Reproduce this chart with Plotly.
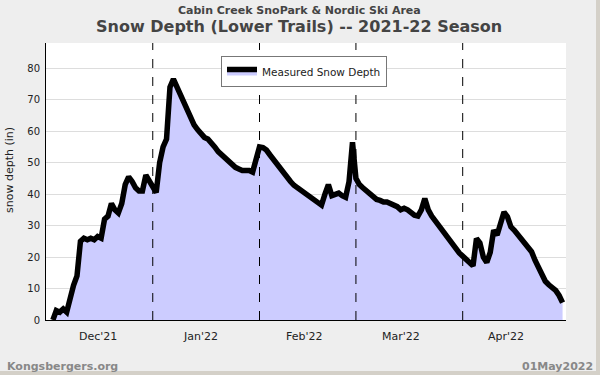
import pandas as pd
import plotly.graph_objects as go

# ---- data (daily readings) ----
start_date = "2021-12-03"
snow_depth = [
    0, 3, 2.5, 3.5, 2.5, 7, 11, 14, 25, 26, 25.5, 26, 25.5, 26.5, 26,          # Dec 3-17
    32, 33, 37, 35, 34, 37, 43, 45.5, 44, 42, 41, 41, 46, 44,                   # Dec 18-31
    42, 40.5, 50, 55, 57.5, 74, 76.5, 74, 71.5, 69.5, 67.5, 64.5, 62, 60.5,     # Jan 1-14
    59, 58, 57.5, 56.5, 55, 53.5, 52.5, 51, 50, 49, 48.5, 48, 47.5, 47.5,       # Jan 15-28
    47.5, 47, 52,                                                               # Jan 29-31
    55, 54.8, 54, 52.5, 51, 49.5, 48, 46.5, 45, 44, 42.8, 42, 41.2, 40.5,       # Feb 1-14
    40, 39, 38.3, 37.5, 36.5, 40, 43, 39.5, 40, 40.3, 39.5, 39, 44, 56.5,       # Feb 15-28
    45, 43, 42, 41, 40, 39, 38.3, 38, 37.5, 37.5, 37, 36.5, 36, 35, 35.5,       # Mar 1-15
    35, 34, 33.3, 33, 35, 38.6, 35, 33, 31.5, 30.3, 29, 27.5, 25.8, 24,         # Mar 16-29
    22.5, 21.3,                                                                 # Mar 30-31
    20.3, 19.3, 18.3, 17.2, 25.9, 24.5, 20, 18.3, 21.5, 28.5, 27, 31, 34.3,     # Apr 1-13
    32.8, 29.6, 28.5, 27, 25.5, 24.3, 23.2, 21.7, 19, 16.5, 14, 12.3, 11.2,     # Apr 14-26
    10.2, 9.4, 7.8, 5.5,                                                        # Apr 27-30
]
dates = pd.date_range(start_date, periods=len(snow_depth), freq="D")

month_starts = ["2022-01-01", "2022-02-01", "2022-03-01", "2022-04-01"]
tick_dates = ["2021-12-16", "2022-01-15", "2022-02-14", "2022-03-14", "2022-04-13 12:00"]
tick_labels = ["Dec'21", "Jan'22", "Feb'22", "Mar'22", "Apr'22"]
x_range = ["2021-12-01", "2022-05-01"]
y_range = [0, 88]

FONT = "DejaVu Sans"
L, R, T, B = 46, 34, 43, 55
PW, PH = 600 - L - R, 375 - T - B
Y_PER_PX = (y_range[1] - y_range[0]) / PH


def px(x):
    return (x - L) / PW


def py(y):
    return (375 - B - y) / PH


fig = go.Figure()
fig.add_trace(go.Scatter(
    x=dates, y=snow_depth, mode="lines", name="Measured Snow Depth",
    line=dict(color="black", width=5.5), fill="tozeroy", fillcolor="#ccccff",
))

# daily tick marks below the x axis (drawn as unclipped vertical-line markers)
day_ticks = pd.date_range(x_range[0], x_range[1], freq="D")
fig.add_trace(go.Scatter(
    x=day_ticks, y=[-2.5 * Y_PER_PX] * len(day_ticks), mode="markers",
    marker=dict(symbol="line-ns", size=4, color="black", line=dict(color="black", width=1)),
    cliponaxis=False, showlegend=False, hoverinfo="skip",
))

shapes = []
for d in month_starts:
    shapes.append(dict(type="line", xref="x", yref="paper", x0=d, x1=d, y0=0, y1=1,
                       line=dict(color="black", width=1, dash="dash"), layer="above"))
# window border (right and bottom)
shapes.append(dict(type="rect", xref="paper", yref="paper",
                   x0=px(596), x1=px(602), y0=py(380), y1=py(-5),
                   line=dict(width=0), fillcolor="#d4d0c8", layer="below"))
shapes.append(dict(type="rect", xref="paper", yref="paper",
                   x0=px(-5), x1=px(605), y0=py(380), y1=py(371),
                   line=dict(width=0), fillcolor="#d4d0c8", layer="below"))

annotations = [
    dict(text=lab, xref="x", yref="paper", x=d, y=py(336), showarrow=False,
         xanchor="center", yanchor="middle", font=dict(family=FONT, size=11, color="#222222"))
    for d, lab in zip(tick_dates, tick_labels)
]
annotations += [
    dict(text="<b>Cabin Creek SnoPark &amp; Nordic Ski Area</b>", xref="paper", yref="paper",
         x=px(299), y=py(10), showarrow=False,
         font=dict(family=FONT, size=11, color="#444444"), xanchor="center", yanchor="middle"),
    dict(text="<b>Snow Depth (Lower Trails) -- 2021-22 Season</b>", xref="paper", yref="paper",
         x=px(299), y=py(26), showarrow=False,
         font=dict(family=FONT, size=16, color="#444444"), xanchor="center", yanchor="middle"),
    dict(text="snow depth (in)", xref="paper", yref="paper", x=px(9), y=py(170),
         textangle=-90, showarrow=False, font=dict(family=FONT, size=11, color="#222222"),
         xanchor="center", yanchor="middle"),
    dict(text="<b>Kongsbergers.org</b>", xref="paper", yref="paper", x=px(5),
         y=py(366), showarrow=False, xanchor="left", yanchor="middle",
         font=dict(family=FONT, size=11, color="#888888")),
    dict(text="<b>01May2022</b>", xref="paper", yref="paper", x=px(595),
         y=py(366), showarrow=False, xanchor="right", yanchor="middle",
         font=dict(family=FONT, size=11, color="#888888")),
]

fig.update_layout(
    width=600, height=375,
    margin=dict(l=L, r=R, t=T, b=B, autoexpand=False),
    paper_bgcolor="#eeeeee", plot_bgcolor="white",
    font=dict(family=FONT, size=11, color="#222222"),
    showlegend=True,
    legend=dict(x=px(221), y=py(56), xanchor="left", yanchor="top",
                bgcolor="white", bordercolor="#777777", borderwidth=1,
                itemwidth=30, tracegroupgap=0,
                font=dict(family=FONT, size=10.5, color="#222222")),
    shapes=shapes,
    annotations=annotations,
    xaxis=dict(
        type="date", range=x_range, ticks="", showticklabels=False,
        showgrid=False, showline=True, linecolor="black", linewidth=1, zeroline=False,
    ),
    yaxis=dict(
        range=y_range, dtick=10, tick0=0, showgrid=True, gridcolor="#dddddd", gridwidth=1,
        showline=True, linecolor="black", linewidth=1, ticks="", zeroline=False,
        tickfont=dict(size=10, color="#222222"), ticklabelstandoff=3,
    ),
)

fig.write_html("out.html", config={"displayModeBar": False},
               post_script="document.body.style.margin='0';")
